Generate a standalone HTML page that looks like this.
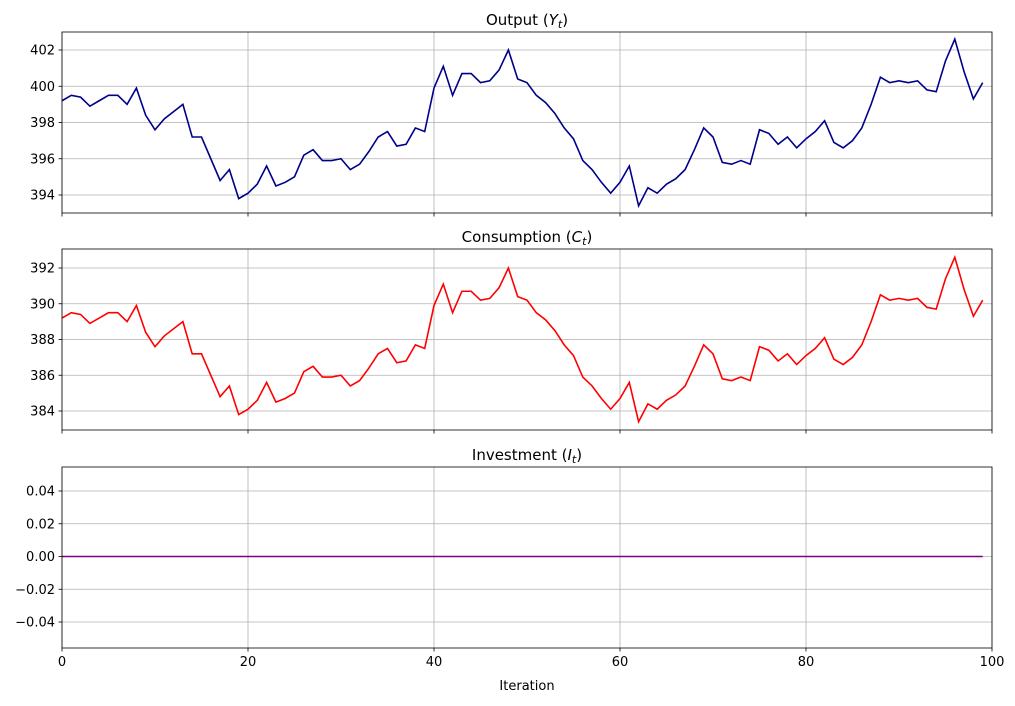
<!DOCTYPE html>
<html><head><meta charset="utf-8"><style>
body{margin:0;background:#fff;}
svg text{font-family:"DejaVu Sans","Liberation Sans",sans-serif;fill:#000;}
</style></head><body>
<svg id="s" width="1015" height="701" xmlns="http://www.w3.org/2000/svg"></svg>
<script>
const Y=[399.2,399.5,399.4,398.9,399.2,399.5,399.5,399.0,399.9,398.4,397.6,398.2,398.6,399.0,397.2,397.2,396.0,394.8,395.4,393.8,394.1,394.6,395.6,394.5,394.7,395.0,396.2,396.5,395.9,395.9,396.0,395.4,395.7,396.4,397.2,397.5,396.7,396.8,397.7,397.5,399.9,401.1,399.5,400.7,400.7,400.2,400.3,400.9,402.0,400.4,400.2,399.5,399.1,398.5,397.7,397.1,395.9,395.4,394.7,394.1,394.7,395.6,393.4,394.4,394.1,394.6,394.9,395.4,396.5,397.7,397.2,395.8,395.7,395.9,395.7,397.6,397.4,396.8,397.2,396.6,397.1,397.5,398.1,396.9,396.6,397.0,397.7,399.0,400.5,400.2,400.3,400.2,400.3,399.8,399.7,401.4,402.6,400.8,399.3,400.2];
const X0=62,X1=992,xs=i=>X0+(X1-X0)*i/100;
let h='';
function panel(top,bot,title,ticks,ymap,data,color,showX){
  // grid
  for(let g=0;g<=100;g+=20){const x=xs(g);h+=`<line x1="${x}" y1="${top}" x2="${x}" y2="${bot}" stroke="#b0b0b0" stroke-width="0.8"/>`;}
  ticks.forEach(t=>{const y=ymap(t[0]);h+=`<line x1="${X0}" y1="${y}" x2="${X1}" y2="${y}" stroke="#b0b0b0" stroke-width="0.8"/><line x1="${X0-3.5}" y1="${y}" x2="${X0}" y2="${y}" stroke="#000" stroke-width="0.8"/><text x="${X0-7}" y="${y+4.5}" font-size="13" text-anchor="end">${t[1]}</text>`;});
  h+=`<polyline fill="none" stroke="${color}" stroke-width="1.6" points="${data.map((v,i)=>xs(i)+','+ymap(v)).join(' ')}"/>`;
  for(let g=0;g<=100;g+=20){const x=xs(g);h+=`<line x1="${x}" y1="${bot}" x2="${x}" y2="${bot+3.5}" stroke="#000" stroke-width="0.8"/>`;if(showX)h+=`<text x="${x}" y="${bot+18}" font-size="13" text-anchor="middle">${g}</text>`;}
  h+=`<rect x="${X0}" y="${top}" width="${X1-X0}" height="${bot-top}" fill="none" stroke="#000" stroke-width="0.8"/>`;
  h+=`<text x="${(X0+X1)/2}" y="${top-7}" font-size="15" text-anchor="middle">${title}</text>`;
}
const m1=v=>50+(402-v)*18.125;
panel(32,213,'Output (<tspan font-style="italic">Y</tspan><tspan font-style="italic" font-size="11" dy="3">t</tspan><tspan dy="-3">)</tspan>',[[394,'394'],[396,'396'],[398,'398'],[400,'400'],[402,'402']],m1,Y,'#00008b',false);
const m2=v=>268+(392-v)*17.875;
panel(249,430,'Consumption (<tspan font-style="italic">C</tspan><tspan font-style="italic" font-size="11" dy="3">t</tspan><tspan dy="-3">)</tspan>',[[384,'384'],[386,'386'],[388,'388'],[390,'390'],[392,'392']],m2,Y.map(v=>v-10),'#ff0000',false);
const m3=v=>556.5-v*1637.5;
panel(467,648,'Investment (<tspan font-style="italic">I</tspan><tspan font-style="italic" font-size="11" dy="3">t</tspan><tspan dy="-3">)</tspan>',[[-0.04,'−0.04'],[-0.02,'−0.02'],[0,'0.00'],[0.02,'0.02'],[0.04,'0.04']],m3,Y.map(()=>0),'#800080',true);
h+=`<text x="527" y="690" font-size="13" text-anchor="middle">Iteration</text>`;
document.getElementById('s').innerHTML=h;
</script>
</body></html>
